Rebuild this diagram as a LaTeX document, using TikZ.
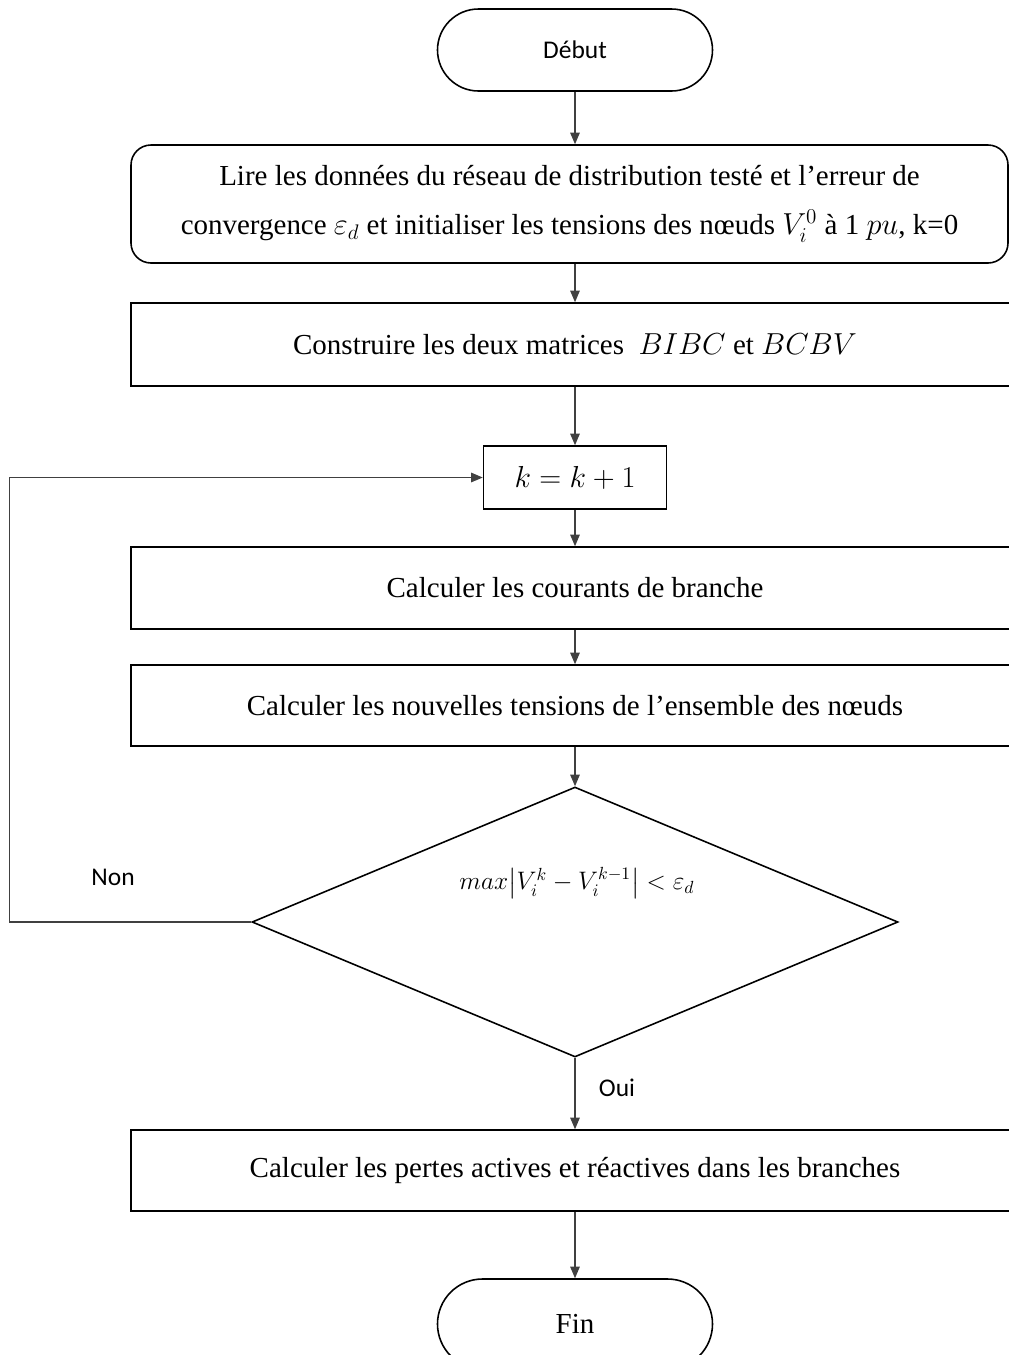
\documentclass[tikz,border=0pt]{standalone}
\usepackage{amsmath}
\usepackage{fontspec}
\setmainfont{Liberation Serif}
\newfontfamily\calibri{Carlito}
\usetikzlibrary{positioning,shapes.geometric,arrows.meta}

\begin{document}
\begin{tikzpicture}[x=0.2mm, y=-0.2mm,
	boite/.style={draw, line width=0.9pt, inner sep=0, align=center, font=\fontsize{16.5}{28}\selectfont},
	terminal/.style={draw, line width=0.9pt, inner sep=0, minimum width=55mm},
	fleche/.style={-{Triangle[width=1.9mm,length=2.3mm]}, line width=0.6pt, black!75},
	etiq/.style={font=\calibri\fontsize{14.5}{16}\selectfont}]
	\useasboundingbox (0,0) rectangle (1009,1355);
	\clip (0,0) rectangle (1009,1355);

	\node (debut) [terminal, minimum height=16.4mm, rounded corners=8.2mm, etiq] at (575,50) {Début};
	\node (lire) [boite, minimum width=175.4mm, minimum height=23.6mm, rounded corners=4mm] at (569.5,204)
		{Lire les données du réseau de distribution testé et l’erreur de\\
		 convergence $\varepsilon_d$ et initialiser les tensions des nœuds $V_i^0$ à 1 $pu$, k=0};
	\node (bibc) [boite, minimum width=177.6mm, minimum height=16.6mm] at (575,344.5)
		{Construire les deux matrices \ $BIBC$ et $BCBV$};
	\node (kbox) [boite, minimum width=36.6mm, minimum height=12.6mm] at (575,477.5) {$k=k+1$};
	\node (courants) [boite, minimum width=177.6mm, minimum height=16.4mm] at (575,588)
		{Calculer les courants de branche};
	\node (tensions) [boite, minimum width=177.6mm, minimum height=16.2mm] at (575,705.5)
		{Calculer les nouvelles tensions de l’ensemble des nœuds};
	\node (test) [draw, diamond, line width=0.9pt, inner sep=0, minimum width=129.2mm, minimum height=54mm] at (575,922) {};
	\node (cond) [font=\fontsize{14.5}{20}\selectfont] at (577,883)
		{$max\bigl|V_i^k-V_i^{k-1}\bigr|<\varepsilon_d$};
	\node (pertes) [boite, minimum width=177.6mm, minimum height=16.2mm] at (575,1170.5)
		{Calculer les pertes actives et réactives dans les branches};
	\node (fin) [terminal, minimum height=18mm, rounded corners=9mm, font=\fontsize{16.5}{24}\selectfont] at (575,1324) {Fin};

	% flèches du haut vers le bas
	\draw[fleche] (debut.south) -- (debut.south |- lire.north);
	\draw[fleche] (debut.south |- lire.south) -- (bibc.north);
	\draw[fleche] (bibc.south) -- (kbox.north);
	\draw[fleche] (kbox.south) -- (courants.north);
	\draw[fleche] (courants.south) -- (tensions.north);
	\draw[fleche] (tensions.south) -- (test.north);
	\draw[fleche] (test.south) -- (pertes.north);
	\draw[fleche] (pertes.south) -- (fin.north);

	% boucle Non
	\coordinate (retour) at (9.5,922);
	\draw[fleche] (test.west) -- (retour) |- (kbox.west);
	\node (non) [etiq] at (113,877) {Non};
	\node (oui) [etiq] at (617,1088) {Oui};
\end{tikzpicture}
\end{document}
